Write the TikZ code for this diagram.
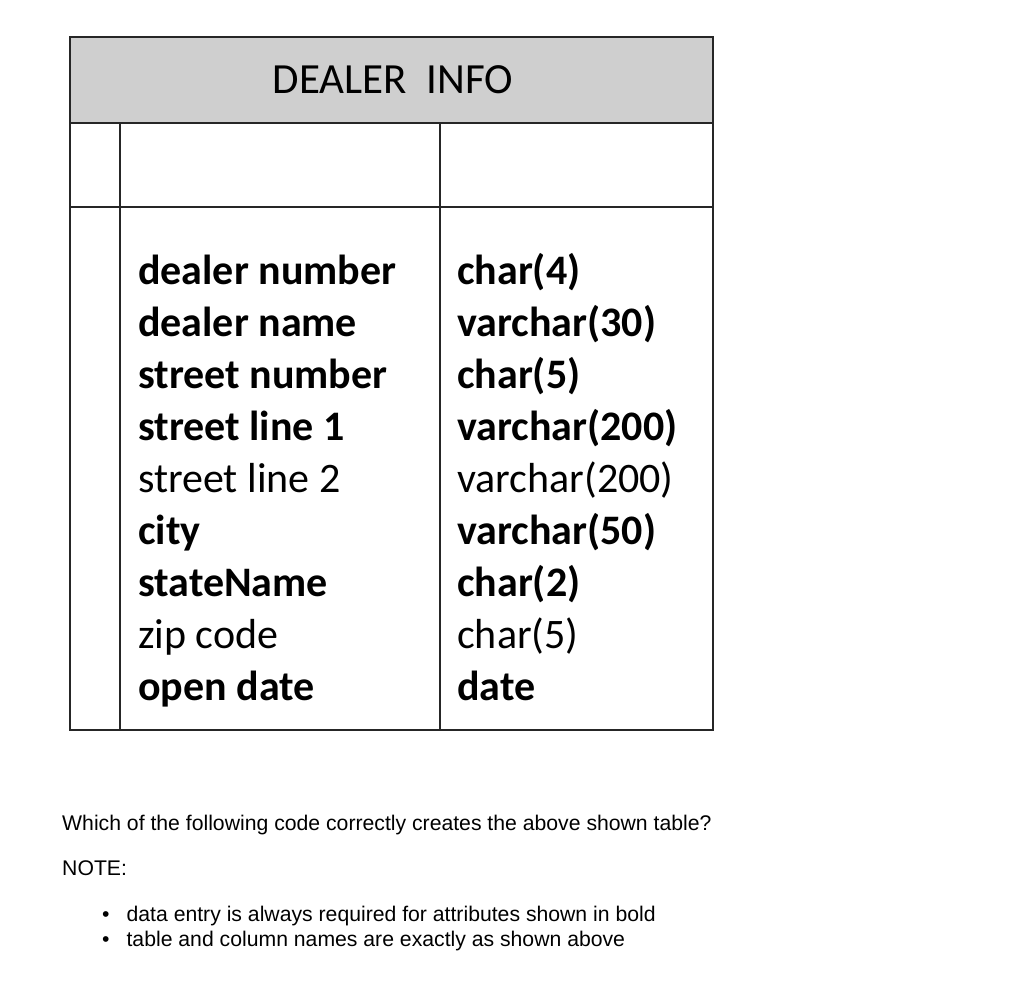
\documentclass[tikz,border=0pt]{standalone}
\usepackage{fontspec}
\setmainfont{Carlito}
\newfontfamily\arialf{Liberation Sans}
\begin{document}
\begin{tikzpicture}[x=1pt,y=-1pt,
  fld/.style={anchor=base west,inner sep=0pt},
  note/.style={anchor=base west,inner sep=0pt,font=\arialf\fontsize{21.2}{24}\selectfont},
  ln/.style={line width=2pt,draw=black!85}]
\useasboundingbox (0,0) rectangle (1024,991);
\fill[gray!38] (70,37) rectangle (713,123);
\draw[ln] (70,37) rectangle (713,730);
\draw[ln] (70,123) -- (713,123);
\draw[ln] (70,207) -- (713,207);
\draw[ln] (120,123) -- (120,730);
\draw[ln] (440,123) -- (440,730);
\node[inner sep=0pt,anchor=base,font=\fontsize{43}{48}\selectfont] (title) at (393,93) {DEALER\ \ INFO};
\foreach \i/\a/\b/\w in {0/dealer number/char(4)/b,1/dealer name/varchar(30)/b,2/street number/char(5)/b,3/street line 1/varchar(200)/b,4/street line 2/varchar(200)/m,5/city/varchar(50)/b,6/stateName/char(2)/b,7/zip code/char(5)/m,8/open date/date/b}{
  \node[fld,font=\fontsize{42}{48}\fontseries{\w}\selectfont] (n\i) at (138,{284+52*\i}) {\a};
  \node[fld,font=\fontsize{42}{48}\fontseries{\w}\selectfont] (t\i) at (457,{284+52*\i}) {\b};
}
\node[note] (q) at (62,830) {Which of the following code correctly creates the above shown table?};
\node[note] (nt) at (62,875) {NOTE:};
\node[note] (b1) at (102,921) {\textbullet\hspace{17pt}data entry is always required for attributes shown in bold};
\node[note] (b2) at (102,946) {\textbullet\hspace{17pt}table and column names are exactly as shown above};
\end{tikzpicture}
\end{document}
